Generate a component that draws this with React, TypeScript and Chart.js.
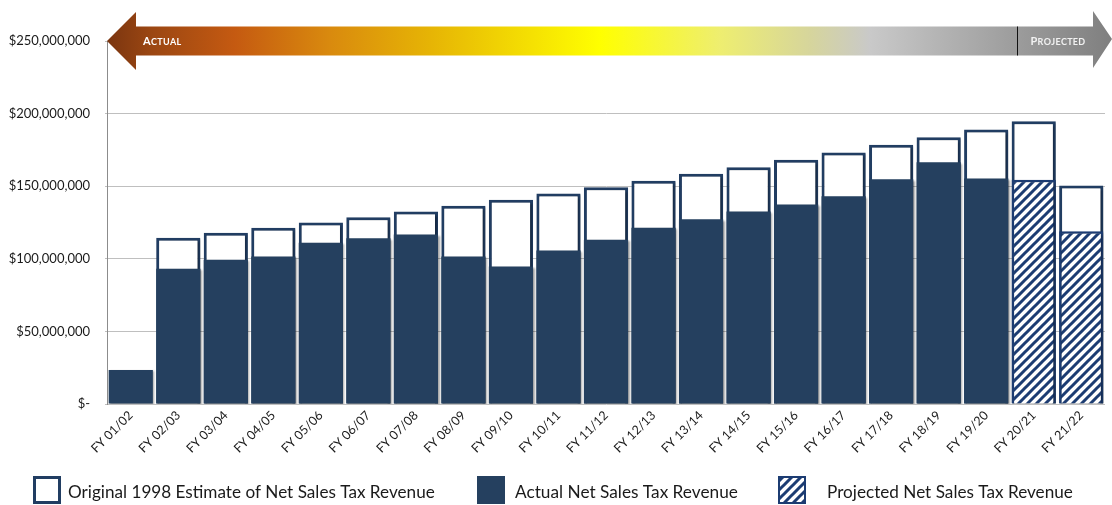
import React, { useEffect, useRef } from "react";
import { Chart, registerables } from "chart.js";

Chart.register(...registerables);

const categories = [
  "FY 01/02", "FY 02/03", "FY 03/04", "FY 04/05", "FY 05/06", "FY 06/07", "FY 07/08",
  "FY 08/09", "FY 09/10", "FY 10/11", "FY 11/12", "FY 12/13", "FY 13/14", "FY 14/15",
  "FY 15/16", "FY 16/17", "FY 17/18", "FY 18/19", "FY 19/20", "FY 20/21", "FY 21/22",
];

// values in millions of dollars
const originalEstimate = [
  null, 114.5, 117.9, 121.3, 125.0, 128.7, 132.6, 136.5, 140.6, 145.0, 149.3,
  153.7, 158.5, 163.1, 168.2, 173.2, 178.5, 183.7, 189.0, 194.8, 150.5,
];
const actualRevenue = [
  23.5, 93.1, 99.3, 101.6, 111.0, 114.2, 116.7, 101.6, 94.7, 105.7, 113.1,
  121.3, 127.3, 132.6, 137.4, 143.1, 154.8, 166.5, 155.3, null, null,
];
const projectedRevenue = [
  null, null, null, null, null, null, null, null, null, null, null,
  null, null, null, null, null, null, null, null, 154.4, 119.0,
];

const yTicks = [0, 50, 100, 150, 200, 250];
const legendLabels = [
  "Original 1998 Estimate of Net Sales Tax Revenue",
  "Actual Net Sales Tax Revenue",
  "Projected Net Sales Tax Revenue",
];
const arrowLabels = ["Actual", "Projected"];
const firstProjectedIndex = 19;

const NAVY = "#25405F";
const BORDER = "#213D62";
const STRIPE = "#1C3C72";
const FONT = "Lato, 'Noto Sans', sans-serif";

function makePattern(): CanvasPattern | string {
  const c = document.createElement("canvas");
  const s = 9;
  c.width = s;
  c.height = s;
  const g = c.getContext("2d");
  if (!g) return "#fff";
  g.fillStyle = "#ffffff";
  g.fillRect(0, 0, s, s);
  g.strokeStyle = STRIPE;
  g.lineWidth = 3;
  g.beginPath();
  g.moveTo(-2, s + 2);
  g.lineTo(s + 2, -2);
  g.moveTo(-3, 3);
  g.lineTo(3, -3);
  g.moveTo(s - 3, s + 3);
  g.lineTo(s + 3, s - 3);
  g.stroke();
  const p = g.createPattern(c, "repeat");
  return p || "#fff";
}

function fmtMoney(v: number): string {
  if (v === 0) return "$-";
  return "$" + Math.round(v * 1e6).toLocaleString("en-US");
}

function smallCaps(ctx: CanvasRenderingContext2D, text: string, x: number, y: number, big: number, small: number) {
  const up = text.toUpperCase();
  let cx = x;
  for (let i = 0; i < up.length; i++) {
    const isFirst = i === 0;
    ctx.font = `bold ${isFirst ? big : small}px ${FONT}`;
    ctx.fillText(up[i], cx, y);
    cx += ctx.measureText(up[i]).width + 0.3;
  }
}

export default function App() {
  const ref = useRef<HTMLCanvasElement | null>(null);

  useEffect(() => {
    document.body.style.margin = "0";
    const canvas = ref.current;
    if (!canvas) return;
    const pattern = makePattern();

    const shadowPlugin = {
      id: "barShadow",
      beforeDatasetsDraw(chart: any) {
        const ctx = chart.ctx;
        ctx.save();
        ctx.shadowColor = "rgba(0,0,0,0.35)";
        ctx.shadowBlur = 2;
        ctx.shadowOffsetX = 1.5;
        ctx.shadowOffsetY = 1.5;
      },
      afterDatasetsDraw(chart: any) {
        chart.ctx.restore();
      },
    };

    const decorPlugin = {
      id: "decor",
      afterDraw(chart: any) {
        const ctx: CanvasRenderingContext2D = chart.ctx;
        const area = chart.chartArea;
        const yMid = chart.scales.y.getPixelForValue(yTicks[yTicks.length - 1]);
        const W = chart.width;
        const left = area.left;
        const right = W;
        const headW = 29;
        const headH = 29;
        const bodyH = 14.5;
        // arrow
        ctx.save();
        const grad = ctx.createLinearGradient(left, 0, right, 0);
        const span = right - left;
        const stop = (x: number) => Math.min(1, Math.max(0, (x - left) / span));
        grad.addColorStop(0, "#7A3510");
        grad.addColorStop(stop(150), "#9A4612");
        grad.addColorStop(stop(235), "#C55A11");
        grad.addColorStop(stop(330), "#D98A0E");
        grad.addColorStop(stop(430), "#E6B405");
        grad.addColorStop(stop(600), "#FFFF00");
        grad.addColorStop(stop(720), "#EEEE70");
        grad.addColorStop(stop(810), "#D6D59C");
        grad.addColorStop(stop(870), "#C9C9C9");
        grad.addColorStop(1, "#7F7F7F");
        ctx.fillStyle = grad;
        ctx.beginPath();
        ctx.moveTo(left, yMid);
        ctx.lineTo(left + headW, yMid - headH);
        ctx.lineTo(left + headW, yMid - bodyH);
        ctx.lineTo(right - 19, yMid - bodyH);
        ctx.lineTo(right - 19, yMid - headH - 1);
        ctx.lineTo(right, yMid - 2);
        ctx.lineTo(right - 19, yMid + headH - 2);
        ctx.lineTo(right - 19, yMid + bodyH);
        ctx.lineTo(left + headW, yMid + bodyH);
        ctx.lineTo(left + headW, yMid + headH);
        ctx.closePath();
        ctx.fill();
        // divider
        const divX = Math.round(chart.scales.x.getPixelForValue(firstProjectedIndex) - 17) + 0.5;
        ctx.strokeStyle = "#111";
        ctx.lineWidth = 1;
        ctx.beginPath();
        ctx.moveTo(divX, yMid - bodyH);
        ctx.lineTo(divX, yMid + bodyH);
        ctx.stroke();
        ctx.fillStyle = "#ffffff";
        ctx.textBaseline = "alphabetic";
        ctx.textAlign = "left";
        smallCaps(ctx, arrowLabels[0], left + 36, yMid + 4, 11, 9);
        ctx.fillStyle = "#F2F2F2";
        smallCaps(ctx, arrowLabels[1], divX + 13, yMid + 4, 11, 9);
        ctx.restore();

        // legend
        ctx.save();
        const ly = 476;
        const bs = 28;
        const items = [
          { x: 33, tx: 68, tw: 367, kind: 0 },
          { x: 477, tx: 515, tw: 223, kind: 1 },
          { x: 778, tx: 827, tw: 246, kind: 2 },
        ];
        items.forEach((it, i) => {
          if (it.kind === 0) {
            ctx.fillStyle = "#fff";
            ctx.fillRect(it.x, ly, bs, bs);
            ctx.strokeStyle = BORDER;
            ctx.lineWidth = 3;
            ctx.strokeRect(it.x + 1.5, ly + 1.5, bs - 3, bs - 3);
          } else if (it.kind === 1) {
            ctx.fillStyle = NAVY;
            ctx.fillRect(it.x, ly, bs, bs);
          } else {
            ctx.fillStyle = pattern as any;
            ctx.fillRect(it.x, ly, bs, bs);
            ctx.strokeStyle = STRIPE;
            ctx.lineWidth = 2;
            ctx.strokeRect(it.x + 1, ly + 1, bs - 2, bs - 2);
          }
          ctx.fillStyle = "#1a1a1a";
          ctx.textAlign = "left";
          ctx.textBaseline = "middle";
          let fs = 17;
          ctx.font = `${fs}px ${FONT}`;
          const w = ctx.measureText(legendLabels[i]).width;
          fs = Math.max(12, Math.min(20, fs * (it.tw / w)));
          ctx.font = `${fs}px ${FONT}`;
          ctx.fillText(legendLabels[i], it.tx, ly + bs / 2 + 2);
        });
        ctx.restore();
      },
    };

    const chart = new Chart(canvas, {
      type: "bar",
      data: {
        labels: categories,
        datasets: [
          {
            label: legendLabels[1],
            data: actualRevenue as any,
            backgroundColor: NAVY,
            borderWidth: 0,
            barPercentage: 0.93,
            categoryPercentage: 1,
            grouped: false,
            order: 1,
          },
          {
            label: legendLabels[2],
            data: projectedRevenue as any,
            backgroundColor: pattern as any,
            borderColor: STRIPE,
            borderWidth: 2.5,
            barPercentage: 0.93,
            categoryPercentage: 1,
            grouped: false,
            order: 2,
          },
          {
            label: legendLabels[0],
            data: originalEstimate as any,
            backgroundColor: "#ffffff",
            borderColor: BORDER,
            borderWidth: 3,
            barPercentage: 0.93,
            categoryPercentage: 1,
            grouped: false,
            order: 3,
          },
        ],
      },
      options: {
        animation: false,
        responsive: false,
        maintainAspectRatio: false,
        devicePixelRatio: 1,
        layout: { padding: { top: 41, right: 7, bottom: 41, left: 0 } },
        plugins: { legend: { display: false }, tooltip: { enabled: false } },
        scales: {
          x: {
            grid: { display: false, drawTicks: false },
            border: { display: false },
            ticks: {
              maxRotation: 45,
              minRotation: 45,
              autoSkip: false,
              padding: 4,
              color: "#1a1a1a",
              font: { family: FONT, size: 12.5 },
            },
            afterFit(scale: any) {
              scale.height = 60;
            },
          },
          y: {
            min: 0,
            max: yTicks[yTicks.length - 1],
            afterBuildTicks(scale: any) {
              scale.ticks = yTicks.map((v) => ({ value: v }));
            },
            grid: { color: "#BFBFBF", lineWidth: 1, drawTicks: true, tickLength: 2 },
            border: { display: true, color: "#8C8C8C", width: 1 },
            ticks: {
              padding: 15,
              color: "#1a1a1a",
              font: { family: FONT, size: 13 },
              callback: (v: any) => fmtMoney(Number(v)),
            },
            afterFit(scale: any) {
              scale.width = 107;
            },
          },
        },
      },
      plugins: [shadowPlugin, decorPlugin],
    });
    return () => chart.destroy();
  }, []);

  return (
    <div style={{ width: 1112, height: 505 }}>
      <canvas ref={ref} width={1112} height={505} style={{ display: "block", width: 1112, height: 505 }} />
    </div>
  );
}
